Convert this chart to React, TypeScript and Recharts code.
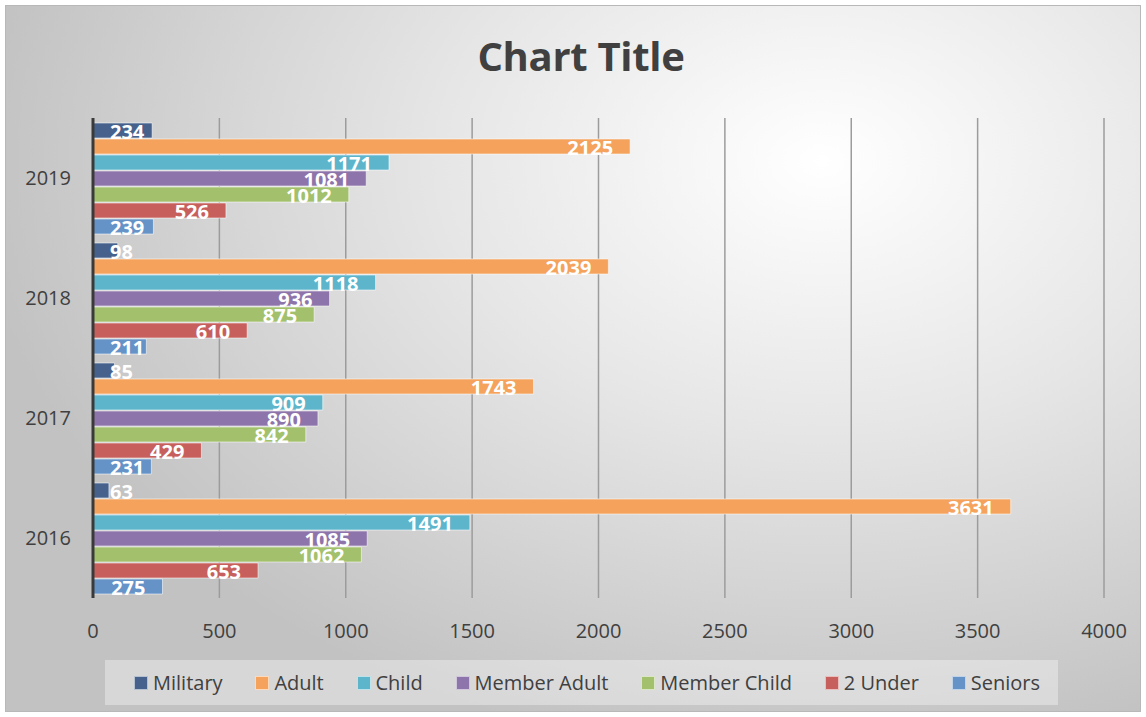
import React from 'react';
import { BarChart, Bar, XAxis, YAxis, CartesianGrid, LabelList } from 'recharts';

const years = ['2019', '2018', '2017', '2016'];
const military = [234, 98, 85, 63];
const adult = [2125, 2039, 1743, 3631];
const child = [1171, 1118, 909, 1491];
const memberAdult = [1081, 936, 890, 1085];
const memberChild = [1012, 875, 842, 1062];
const twoUnder = [526, 610, 429, 653];
const seniors = [239, 211, 231, 275];
const xTicks = [0, 500, 1000, 1500, 2000, 2500, 3000, 3500, 4000];

const series = [
  { key: 'Military', values: military, color: '#46628c' },
  { key: 'Adult', values: adult, color: '#f4a25c' },
  { key: 'Child', values: child, color: '#5db5cb' },
  { key: 'Member Adult', values: memberAdult, color: '#8d74aa' },
  { key: 'Member Child', values: memberChild, color: '#a3c16c' },
  { key: '2 Under', values: twoUnder, color: '#c7605d' },
  { key: 'Seniors', values: seniors, color: '#6592c7' },
];

const data = years.map((year, i) => {
  const row: Record<string, string | number> = { year };
  series.forEach((s) => {
    row[s.key] = s.values[i];
  });
  return row;
});

const FONT = '"Open Sans", sans-serif';

const BarLabel = (props: any) => {
  const { x, y, width, height, value } = props;
  const textWidth = String(value).length * 11.4;
  let tx = x + width - 17;
  let anchor: 'end' | 'start' = 'end';
  if (tx - textWidth < x + 17) {
    tx = x + 17;
    anchor = 'start';
  }
  return (
    <text
      x={tx}
      y={y + height / 2 + 1}
      textAnchor={anchor}
      dominantBaseline="central"
      fill="#ffffff"
      fontFamily={FONT}
      fontWeight={700}
      fontSize={20}
    >
      {value}
    </text>
  );
};

const LegendBox = () => (
  <div
    style={{
      position: 'absolute',
      left: 105,
      top: 660,
      width: 953,
      height: 45,
      background: 'rgba(255,255,255,0.35)',
      display: 'flex',
      alignItems: 'center',
      justifyContent: 'space-between',
      fontFamily: FONT,
      fontSize: 20,
      color: '#404040',
      boxSizing: 'border-box',
      padding: '0 18px 0 29px',
    }}
  >
    {series.map((s) => (
      <div key={s.key} style={{ display: 'flex', alignItems: 'center' }}>
        <span
          style={{
            width: 12,
            height: 12,
            background: s.color,
            border: '1px solid rgba(255,255,255,0.6)',
            marginRight: 5,
            display: 'inline-block',
          }}
        />
        <span>{s.key}</span>
      </div>
    ))}
  </div>
);

export default function App() {
  return (
    <div style={{ position: 'absolute', left: 0, top: 0, width: 1146, height: 717 }}>
      <div
        style={{
          position: 'absolute',
          left: 5,
          top: 5,
          width: 1134,
          height: 705,
          border: '1px solid #b8b8b8',
          background:
            'radial-gradient(ellipse 75% 85% at 72% 22%, #ffffff 0%, #e6e6e6 45%, #cfcfcf 80%, #c2c2c2 100%)',
        }}
      />
      <div
        style={{
          position: 'absolute',
          left: 0,
          top: 28,
          width: 1162,
          textAlign: 'center',
          fontFamily: FONT,
          fontWeight: 700,
          fontSize: 40,
          letterSpacing: -0.3,
          color: '#404040',
        }}
      >
        Chart Title
      </div>
      <div style={{ position: 'absolute', left: 0, top: 0 }}>
        <BarChart
          width={1146}
          height={717}
          data={data}
          layout="vertical"
          margin={{ top: 118, right: 42, bottom: 59, left: 0 }}
          barCategoryGap={5}
          barGap={1}
        >
          <CartesianGrid horizontal={false} stroke="#9c9c9c" strokeWidth={1.5} />
          <XAxis
            type="number"
            domain={[0, 4000]}
            ticks={xTicks}
            axisLine={false}
            tickLine={false}
            tickSize={0}
            tickMargin={26}
            height={60}
            tick={{ fill: '#404040', fontSize: 20, fontFamily: FONT }}
          />
          <YAxis
            type="category"
            dataKey="year"
            width={93}
            axisLine={{ stroke: '#3a3a3a', strokeWidth: 3 }}
            tickLine={false}
            tickSize={0}
            tickMargin={22}
            tick={{ fill: '#404040', fontSize: 20, fontFamily: FONT }}
          />
          {series.map((s) => (
            <Bar
              key={s.key}
              dataKey={s.key}
              fill={s.color}
              stroke="rgba(255,255,255,0.55)"
              strokeWidth={1}
              isAnimationActive={false}
            >
              <LabelList dataKey={s.key} content={<BarLabel />} />
            </Bar>
          ))}
        </BarChart>
      </div>
      <LegendBox />
    </div>
  );
}
